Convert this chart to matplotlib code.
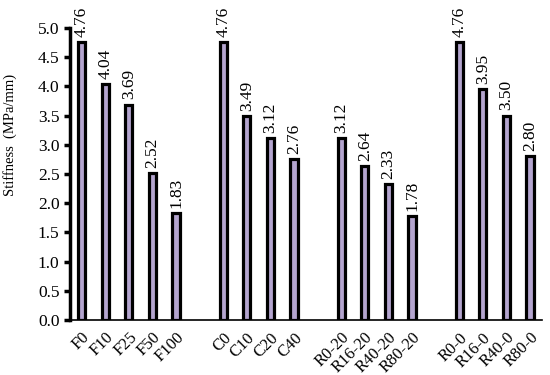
import matplotlib.pyplot as plt

plt.rcParams['font.family'] = ['Liberation Serif', 'DejaVu Serif']

labels = ['F0', 'F10', 'F25', 'F50', 'F100', '',
          'C0', 'C10', 'C20', 'C40', '',
          'R0-20', 'R16-20', 'R40-20', 'R80-20', '',
          'R0-0', 'R16-0', 'R40-0', 'R80-0']
values = [4.76, 4.04, 3.69, 2.52, 1.83, None,
          4.76, 3.49, 3.12, 2.76, None,
          3.12, 2.64, 2.33, 1.78, None,
          4.76, 3.95, 3.50, 2.80]

fig = plt.figure(figsize=(5.5, 3.75), dpi=100)
ax = fig.add_axes([0.127, 0.147, 0.858, 0.778])

for i, v in enumerate(values):
    if v is None:
        continue
    ax.bar(i, v, width=0.31, color='#b4a5cf', edgecolor='black', linewidth=2.3)
    ax.text(i, v + 0.09, f'{v:.2f}', rotation=90, ha='center', va='bottom', fontsize=12.5)

ax.set_xlim(-0.5, len(labels) - 0.5)
ax.set_ylim(0, 5.0)
ax.set_yticks([i * 0.5 for i in range(11)])
ax.set_yticklabels([f'{i * 0.5:.1f}' for i in range(11)], fontsize=12.5)
ax.set_xticks(range(len(labels)))
ax.set_xticklabels(labels, rotation=45, ha='right', rotation_mode='anchor', fontsize=12)
ax.tick_params(axis='x', length=0, pad=7)
ax.tick_params(axis='y', direction='out', length=4, width=2.5)
ax.set_ylabel('Stiffness  (MPa/mm)', fontsize=10.5)
ax.yaxis.set_label_coords(-0.112, 0.634)

for s in ['top', 'right']:
    ax.spines[s].set_visible(False)
ax.spines['left'].set_linewidth(2.5)
ax.spines['bottom'].set_linewidth(1.2)

fig.savefig('out.png', dpi=100)
